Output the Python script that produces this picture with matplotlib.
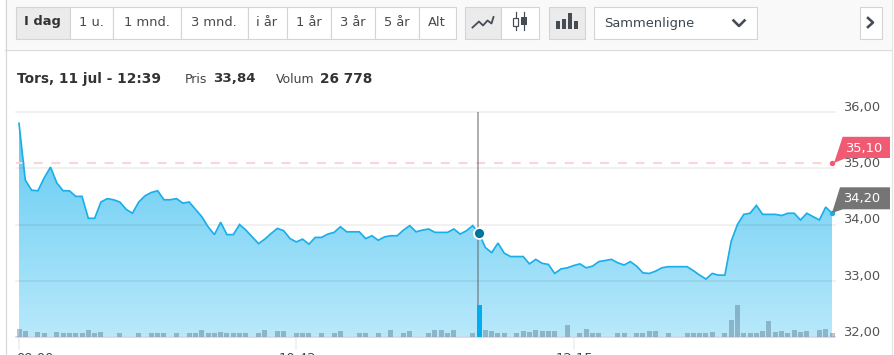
import numpy as np
import matplotlib
matplotlib.use("Agg")
import matplotlib.pyplot as plt
from matplotlib.colors import LinearSegmentedColormap
from matplotlib.patches import Polygon, Rectangle

prices = [35.80, 34.79, 34.61, 34.60, 34.83, 35.02, 34.74, 34.60, 34.60, 34.50,
          34.50, 34.11, 34.11, 34.40, 34.46, 34.44, 34.40, 34.27, 34.20, 34.40,
          34.51, 34.57, 34.60, 34.44, 34.44, 34.46, 34.38, 34.40, 34.27, 34.14,
          33.96, 33.82, 34.04, 33.82, 33.82, 34.00, 33.90, 33.78, 33.66, 33.74,
          33.84, 33.93, 33.89, 33.75, 33.69, 33.74, 33.65, 33.77, 33.77, 33.83,
          33.86, 33.96, 33.87, 33.87, 33.87, 33.75, 33.80, 33.72, 33.78, 33.80,
          33.80, 33.90, 33.98, 33.87, 33.90, 33.92, 33.86, 33.86, 33.86, 33.92,
          33.83, 33.89, 33.98, 33.84, 33.59, 33.50, 33.67, 33.49, 33.43, 33.43,
          33.43, 33.30, 33.38, 33.31, 33.29, 33.13, 33.21, 33.23, 33.27, 33.30,
          33.23, 33.26, 33.34, 33.36, 33.38, 33.32, 33.28, 33.34, 33.26, 33.14,
          33.13, 33.17, 33.23, 33.25, 33.25, 33.25, 33.25, 33.18, 33.10, 33.03,
          33.13, 33.10, 33.10, 33.70, 34.00, 34.18, 34.20, 34.34, 34.18, 34.18,
          34.18, 34.16, 34.20, 34.20, 34.08, 34.20, 34.14, 34.08, 34.31, 34.20]

volumes = [6400, 5100, 0, 3800, 3000, 0, 3800, 3000, 3000, 3000,
           3000, 5500, 3000, 4300, 0, 0, 3000, 0, 0, 3000,
           0, 3000, 3000, 3000, 0, 3000, 0, 3000, 3400, 5500,
           3000, 3000, 4300, 3000, 3000, 3000, 3000, 0, 3400, 5500,
           0, 4700, 4700, 0, 3000, 3000, 3000, 0, 3000, 0,
           3000, 4700, 0, 0, 3000, 3000, 0, 3000, 0, 5500,
           0, 3000, 4700, 0, 0, 3000, 5500, 5500, 3400, 5500,
           0, 0, 3000, 26778, 5500, 4700, 3000, 3000, 0, 3000,
           4700, 3800, 5500, 4700, 4700, 4700, 0, 9700, 0, 3000,
           6400, 3400, 3400, 0, 0, 3000, 3000, 0, 3000, 3400,
           4700, 4700, 0, 3000, 0, 0, 3000, 3000, 3000, 3000,
           3800, 0, 3000, 13900, 26500, 3000, 3000, 3000, 4700, 13000,
           3800, 4700, 3000, 5500, 3800, 4700, 0, 5500, 6400, 3000]

y_ticks = [32, 33, 34, 35, 36]
y_labels = ["32,00", "33,00", "34,00", "35,00", "36,00"]
x_tick_idx = [0, 44, 88]
x_tick_labels = ["09:00", "10:42", "12:15"]
prev_close = 35.10
last_price = 34.20
selected = 73
ranges = ["I dag", "1 u.", "1 mnd.", "3 mnd.", "i år", "1 år", "3 år", "5 år", "Alt"]
range_edges = [15, 69, 112, 180, 247, 286, 330, 374, 418, 455]

W, H = 894, 355
fig = plt.figure(figsize=(W / 100, H / 100), dpi=100, facecolor="white")
plt.rcParams["font.family"] = ["DejaVu Sans"]
px = 72 / 100


def ax_rect(x0, x1, y0, y1):
    return [x0 / W, 1 - y1 / H, (x1 - x0) / W, (y1 - y0) / H]


# chart axes: 16..835 px wide, price 36 at y=112 and 32 at y=337
ax = fig.add_axes(ax_rect(16, 835, 112, 337), zorder=2)
ax.patch.set_alpha(0)
n = np.arange(len(prices))
unit = (832 - 19) / (len(prices) - 1)
xlim = (-3 / unit, len(prices) - 1 + 3 / unit)

cmap = LinearSegmentedColormap.from_list("f", ["#5cc8f2", "#b9e9fb"])
area = ax.fill_between(n, prices, 32, color="none", lw=0)
img = ax.imshow(np.linspace(0, 1, 256)[:, None], cmap=cmap, aspect="auto",
                extent=(xlim[0], xlim[1], 32, 36), zorder=1, origin="upper")
img.set_clip_path(area.get_paths()[0], transform=ax.transData)
ax.set_xlim(*xlim)
ax.set_ylim(32, 36)

ax.set_yticks([])
ax.set_xticks([])
for s in ax.spines.values():
    s.set_visible(False)

for v in y_ticks[1:]:
    ax.axhline(v, color="black", alpha=0.065, lw=1.6 * px, zorder=2, clip_on=False)

# volumes on a shared-position axis
ax2 = fig.add_axes(ax_rect(16, 835, 112, 337), zorder=3)
ax2.patch.set_alpha(0)
ax2.set_xlim(*xlim)
ax2.set_ylim(0, volumes[selected] * 225 / 32)
ax2.axis("off")
colors = ["#00aeef" if i == selected else "#3a5570" for i in n]
alphas = [1 if i == selected else 0.34 for i in n]
ax2.bar(n, volumes, width=5 / unit, color=colors, lw=0)
for b, a in zip(ax2.patches, alphas):
    b.set_alpha(a)

ax.plot(n, prices, color="#1aaeea", lw=1.7 * px, zorder=4, solid_joinstyle="miter")
ax.axhline(prev_close, color="#fbd3dc", lw=2 * px, dashes=(4.5, 4.35), zorder=3,
           xmax=(832 - 16) / (835 - 16))
ax.axvline(selected - 0.1, color="#666666", alpha=0.6, lw=1.7 * px, zorder=3)
ax.plot([selected], [prices[selected]], "o", ms=11 * px, color="#00749f", mec="white",
        mew=1.8 * px, zorder=6)
ax.plot([len(prices) - 1], [prev_close], "o", ms=4 * px, color="#f05a72", zorder=6, clip_on=False)
ax.plot([len(prices) - 1], [last_price], "o", ms=4 * px, color="#1aaeea", zorder=6, clip_on=False)

for v, lab in zip(y_ticks, y_labels):
    ax.annotate(lab, xy=(1, v), xycoords=("axes fraction", "data"), xytext=(8, 4.5),
                textcoords="offset pixels", fontsize=13 * px, color="#555555",
                va="center", ha="left", annotation_clip=False)

# UI overlay in pixel coordinates
ui = fig.add_axes([0, 0, 1, 1], zorder=1)
ui.set_xlim(0, W)
ui.set_ylim(H, 0)
ui.axis("off")
top = fig.add_axes([0, 0, 1, 1], zorder=5)
top.set_xlim(0, W)
top.set_ylim(H, 0)
top.axis("off")
top.patch.set_alpha(0)

BORDER = "#d4d4d4"
ui.add_patch(Rectangle((5, 0), 886, 49, fc="#f9f9f9", ec="none"))
ui.plot([5, 891], [49.5, 49.5], color="#dcdcdc", lw=1.3 * px)
ui.plot([5.5, 5.5], [0, 355], color="#d8d8d8", lw=1.2 * px)
ui.plot([891.5, 891.5], [0, 355], color="#e4e4e4", lw=1.2 * px)


def box(x0, x1, fc="white", y0=6.5, y1=38.5):
    ui.add_patch(Rectangle((x0 + .5, y0), x1 - x0, y1 - y0, fc=fc, ec=BORDER, lw=1.1 * px))


for i, lab in enumerate(ranges):
    box(range_edges[i], range_edges[i + 1], "#ebebeb" if i == 0 else "white")
    ui.text((range_edges[i] + range_edges[i + 1]) / 2 + .5, 22, lab, ha="center", va="center",
            fontsize=13 * px, color="#333333" if i == 0 else "#4a4a4a",
            fontweight="bold" if i == 0 else "normal")

box(464, 500, "#ebebeb")
box(500, 538)
box(548, 584, "#ebebeb")
box(593, 756)
box(859, 881)

ICON = "#454c54"
ui.plot([472.5, 479, 483, 487.5, 491.5, 493.5], [27.5, 21.5, 25.5, 20.5, 23.5, 17],
        color=ICON, lw=1.8 * px)
ui.plot([515.5, 515.5], [12, 30], color=ICON, lw=1.2 * px)
ui.add_patch(Rectangle((513, 18), 5, 8, fc="white", ec=ICON, lw=1.2 * px, zorder=3))
ui.plot([523.5, 523.5], [12, 30], color=ICON, lw=1.2 * px)
ui.add_patch(Rectangle((521, 17), 5.5, 8, fc=ICON, ec="none", zorder=3))
for xx, yy in zip([556, 562, 568, 573.5], [21, 19, 13, 21]):
    ui.add_patch(Rectangle((xx, yy), 4, 29 - yy, fc=ICON, ec="none"))
ui.text(604, 23, "Sammenligne", ha="left", va="center", fontsize=13 * px, color="#3c4650")
ui.plot([733.5, 739, 744.5], [20.5, 26, 20.5], color=ICON, lw=2.6 * px)
ui.plot([868, 873, 868], [18, 22.5, 27], color=ICON, lw=2.6 * px)

TXT = "#333333"
ui.text(17, 79, "Tors, 11 jul - 12:39", fontsize=13.8 * px, fontweight="bold", va="center", color=TXT)
ui.text(185, 79.5, "Pris", fontsize=12.5 * px, va="center", color="#444444")
ui.text(213, 79, "33,84", fontsize=13.4 * px, fontweight="bold", va="center", color=TXT)
ui.text(276, 79.5, "Volum", fontsize=12.5 * px, va="center", color="#444444")
ui.text(320, 79, "26 778", fontsize=13.6 * px, fontweight="bold", va="center", color=TXT)

# axis baseline, ticks, time labels
ax.plot([0, 1], [0, 0], transform=ax.transAxes, color="#ccd6eb", lw=1.6 * px, clip_on=False, zorder=7)
for i, lab in zip(x_tick_idx, x_tick_labels):
    xp = 19 + i * unit
    ui.plot([xp, xp], [338, 349], color="#eeeeee", lw=1.6 * px)
    tx = 35 if i == 0 else xp + 1
    ui.text(tx, 352.5, lab, ha="center", va="top", fontsize=13 * px, color="#444444")

# callouts
top.add_patch(Polygon([(842.7, 136.8), (890, 136.8), (890, 158), (846, 158), (834, 163)],
                      closed=True, fc="#f05a72", ec="none"))
top.text(863.5, 148.5, "35,10", color="white", ha="center", va="center", fontsize=13 * px)
top.add_patch(Polygon([(840, 187.3), (890, 187.3), (890, 209.3), (843, 209.3), (832, 213)],
                      closed=True, fc="#757575", ec="none"))
top.text(862, 198.3, "34,20", color="white", ha="center", va="center", fontsize=13 * px)

fig.savefig("out.png", dpi=100)
